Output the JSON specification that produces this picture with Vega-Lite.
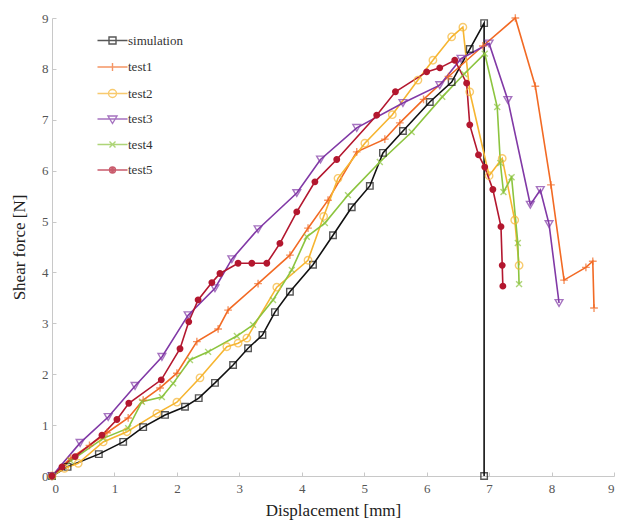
{
  "$schema": "https://vega.github.io/schema/vega-lite/v6.json",
  "width": 562,
  "height": 458,
  "autosize": {"type": "none"},
  "padding": {"left": 52, "top": 18, "right": 10, "bottom": 48},
  "background": "white",
  "config": {
    "view": {"stroke": null},
    "font": "Liberation Serif, Times New Roman, serif",
    "axis": {
      "grid": false,
      "domainColor": "#c8c8c8",
      "tickColor": "#c8c8c8",
      "tickSize": -4,
      "labelFont": "Liberation Serif, Times New Roman, serif",
      "labelFontSize": 13,
      "labelColor": "#555555",
      "titleFont": "Liberation Serif, Times New Roman, serif",
      "titleFontSize": 17,
      "titleFontWeight": "normal",
      "titleColor": "#222222"
    },
    "legend": {"labelFont": "Liberation Serif, Times New Roman, serif", "labelFontSize": 13, "labelColor": "#333333"}
  },
  "data": {"values": [
    {"series":"simulation","order":0,"x":0,"y":0},
    {"series":"simulation","order":1,"x":0.25,"y":0.18},
    {"series":"simulation","order":2,"x":0.75,"y":0.43},
    {"series":"simulation","order":3,"x":1.14,"y":0.67},
    {"series":"simulation","order":4,"x":1.46,"y":0.96},
    {"series":"simulation","order":5,"x":1.81,"y":1.2},
    {"series":"simulation","order":6,"x":2.13,"y":1.36},
    {"series":"simulation","order":7,"x":2.35,"y":1.53},
    {"series":"simulation","order":8,"x":2.61,"y":1.83},
    {"series":"simulation","order":9,"x":2.9,"y":2.18},
    {"series":"simulation","order":10,"x":3.14,"y":2.51},
    {"series":"simulation","order":11,"x":3.37,"y":2.77},
    {"series":"simulation","order":12,"x":3.57,"y":3.22},
    {"series":"simulation","order":13,"x":3.81,"y":3.62},
    {"series":"simulation","order":14,"x":4.18,"y":4.15},
    {"series":"simulation","order":15,"x":4.5,"y":4.73},
    {"series":"simulation","order":16,"x":4.8,"y":5.28},
    {"series":"simulation","order":17,"x":5.09,"y":5.7},
    {"series":"simulation","order":18,"x":5.3,"y":6.35},
    {"series":"simulation","order":19,"x":5.62,"y":6.78},
    {"series":"simulation","order":20,"x":6.05,"y":7.35},
    {"series":"simulation","order":21,"x":6.4,"y":7.74},
    {"series":"simulation","order":22,"x":6.69,"y":8.39},
    {"series":"simulation","order":23,"x":6.92,"y":8.9},
    {"series":"simulation","order":24,"x":6.92,"y":0},

    {"series":"test1","order":0,"x":0,"y":0},
    {"series":"test1","order":1,"x":0.3,"y":0.35},
    {"series":"test1","order":2,"x":0.6,"y":0.6},
    {"series":"test1","order":3,"x":0.88,"y":0.85},
    {"series":"test1","order":4,"x":1.22,"y":1.14},
    {"series":"test1","order":5,"x":1.46,"y":1.49},
    {"series":"test1","order":6,"x":1.73,"y":1.73},
    {"series":"test1","order":7,"x":2.0,"y":2.02},
    {"series":"test1","order":8,"x":2.32,"y":2.64},
    {"series":"test1","order":9,"x":2.66,"y":2.89},
    {"series":"test1","order":10,"x":2.82,"y":3.26},
    {"series":"test1","order":11,"x":3.3,"y":3.78},
    {"series":"test1","order":12,"x":3.81,"y":4.34},
    {"series":"test1","order":13,"x":4.1,"y":4.87},
    {"series":"test1","order":14,"x":4.42,"y":5.42},
    {"series":"test1","order":15,"x":4.88,"y":6.37},
    {"series":"test1","order":16,"x":5.33,"y":6.62},
    {"series":"test1","order":17,"x":5.57,"y":6.94},
    {"series":"test1","order":18,"x":5.95,"y":7.4},
    {"series":"test1","order":19,"x":6.35,"y":7.85},
    {"series":"test1","order":20,"x":6.9,"y":8.45},
    {"series":"test1","order":21,"x":7.42,"y":9.0},
    {"series":"test1","order":22,"x":7.74,"y":7.66},
    {"series":"test1","order":23,"x":7.99,"y":5.72},
    {"series":"test1","order":24,"x":8.2,"y":3.85},
    {"series":"test1","order":25,"x":8.55,"y":4.1},
    {"series":"test1","order":26,"x":8.66,"y":4.22},
    {"series":"test1","order":27,"x":8.68,"y":3.3},

    {"series":"test2","order":0,"x":0,"y":0},
    {"series":"test2","order":1,"x":0.2,"y":0.15},
    {"series":"test2","order":2,"x":0.42,"y":0.25},
    {"series":"test2","order":3,"x":0.82,"y":0.67},
    {"series":"test2","order":4,"x":1.2,"y":0.87},
    {"series":"test2","order":5,"x":1.68,"y":1.23},
    {"series":"test2","order":6,"x":2.0,"y":1.45},
    {"series":"test2","order":7,"x":2.37,"y":1.93},
    {"series":"test2","order":8,"x":2.8,"y":2.54},
    {"series":"test2","order":9,"x":2.98,"y":2.61},
    {"series":"test2","order":10,"x":3.12,"y":2.71},
    {"series":"test2","order":11,"x":3.6,"y":3.71},
    {"series":"test2","order":12,"x":4.1,"y":4.24},
    {"series":"test2","order":13,"x":4.35,"y":5.1},
    {"series":"test2","order":14,"x":4.58,"y":5.85},
    {"series":"test2","order":15,"x":5.01,"y":6.54},
    {"series":"test2","order":16,"x":5.45,"y":7.1},
    {"series":"test2","order":17,"x":5.86,"y":7.78},
    {"series":"test2","order":18,"x":6.1,"y":8.17},
    {"series":"test2","order":19,"x":6.4,"y":8.63},
    {"series":"test2","order":20,"x":6.58,"y":8.82},
    {"series":"test2","order":21,"x":6.69,"y":7.55},
    {"series":"test2","order":22,"x":7.0,"y":5.9},
    {"series":"test2","order":23,"x":7.21,"y":6.24},
    {"series":"test2","order":24,"x":7.41,"y":5.03},
    {"series":"test2","order":25,"x":7.48,"y":4.14},

    {"series":"test3","order":0,"x":0,"y":0},
    {"series":"test3","order":1,"x":0.45,"y":0.65},
    {"series":"test3","order":2,"x":0.9,"y":1.16},
    {"series":"test3","order":3,"x":1.33,"y":1.77},
    {"series":"test3","order":4,"x":1.76,"y":2.34},
    {"series":"test3","order":5,"x":2.18,"y":3.16},
    {"series":"test3","order":6,"x":2.61,"y":3.69},
    {"series":"test3","order":7,"x":2.88,"y":4.26},
    {"series":"test3","order":8,"x":3.3,"y":4.85},
    {"series":"test3","order":9,"x":3.92,"y":5.56},
    {"series":"test3","order":10,"x":4.3,"y":6.22},
    {"series":"test3","order":11,"x":4.88,"y":6.84},
    {"series":"test3","order":12,"x":5.62,"y":7.33},
    {"series":"test3","order":13,"x":6.21,"y":7.68},
    {"series":"test3","order":14,"x":6.55,"y":8.2},
    {"series":"test3","order":15,"x":7.0,"y":8.5},
    {"series":"test3","order":16,"x":7.3,"y":7.39},
    {"series":"test3","order":17,"x":7.66,"y":5.33},
    {"series":"test3","order":18,"x":7.82,"y":5.62},
    {"series":"test3","order":19,"x":7.96,"y":4.95},
    {"series":"test3","order":20,"x":8.12,"y":3.4},

    {"series":"test4","order":0,"x":0,"y":0},
    {"series":"test4","order":1,"x":0.3,"y":0.3},
    {"series":"test4","order":2,"x":0.82,"y":0.74},
    {"series":"test4","order":3,"x":1.22,"y":0.94},
    {"series":"test4","order":4,"x":1.44,"y":1.46},
    {"series":"test4","order":5,"x":1.76,"y":1.55},
    {"series":"test4","order":6,"x":1.94,"y":1.82},
    {"series":"test4","order":7,"x":2.21,"y":2.28},
    {"series":"test4","order":8,"x":2.5,"y":2.44},
    {"series":"test4","order":9,"x":2.96,"y":2.75},
    {"series":"test4","order":10,"x":3.22,"y":2.97},
    {"series":"test4","order":11,"x":3.54,"y":3.46},
    {"series":"test4","order":12,"x":3.84,"y":4.05},
    {"series":"test4","order":13,"x":4.08,"y":4.7},
    {"series":"test4","order":14,"x":4.37,"y":4.97},
    {"series":"test4","order":15,"x":4.74,"y":5.52},
    {"series":"test4","order":16,"x":5.25,"y":6.17},
    {"series":"test4","order":17,"x":5.76,"y":6.76},
    {"series":"test4","order":18,"x":6.25,"y":7.45},
    {"series":"test4","order":19,"x":6.6,"y":7.9},
    {"series":"test4","order":20,"x":6.93,"y":8.3},
    {"series":"test4","order":21,"x":7.13,"y":7.25},
    {"series":"test4","order":22,"x":7.18,"y":6.15},
    {"series":"test4","order":23,"x":7.23,"y":5.58},
    {"series":"test4","order":24,"x":7.36,"y":5.87},
    {"series":"test4","order":25,"x":7.46,"y":4.58},
    {"series":"test4","order":26,"x":7.48,"y":3.77},

    {"series":"test5","order":0,"x":0,"y":0},
    {"series":"test5","order":1,"x":0.16,"y":0.18},
    {"series":"test5","order":2,"x":0.37,"y":0.38},
    {"series":"test5","order":3,"x":0.8,"y":0.8},
    {"series":"test5","order":4,"x":1.04,"y":1.11},
    {"series":"test5","order":5,"x":1.23,"y":1.43},
    {"series":"test5","order":6,"x":1.75,"y":1.89},
    {"series":"test5","order":7,"x":2.05,"y":2.5},
    {"series":"test5","order":8,"x":2.19,"y":3.03},
    {"series":"test5","order":9,"x":2.34,"y":3.46},
    {"series":"test5","order":10,"x":2.56,"y":3.8},
    {"series":"test5","order":11,"x":2.69,"y":3.98},
    {"series":"test5","order":12,"x":2.98,"y":4.18},
    {"series":"test5","order":13,"x":3.2,"y":4.18},
    {"series":"test5","order":14,"x":3.44,"y":4.18},
    {"series":"test5","order":15,"x":3.65,"y":4.57},
    {"series":"test5","order":16,"x":3.92,"y":5.19},
    {"series":"test5","order":17,"x":4.21,"y":5.78},
    {"series":"test5","order":18,"x":4.56,"y":6.22},
    {"series":"test5","order":19,"x":5.2,"y":7.09},
    {"series":"test5","order":20,"x":5.5,"y":7.55},
    {"series":"test5","order":21,"x":6.0,"y":7.94},
    {"series":"test5","order":22,"x":6.21,"y":8.02},
    {"series":"test5","order":23,"x":6.45,"y":8.17},
    {"series":"test5","order":24,"x":6.64,"y":7.72},
    {"series":"test5","order":25,"x":6.69,"y":6.9},
    {"series":"test5","order":26,"x":6.83,"y":6.31},
    {"series":"test5","order":27,"x":6.93,"y":6.07},
    {"series":"test5","order":28,"x":7.06,"y":5.63},
    {"series":"test5","order":29,"x":7.19,"y":4.9},
    {"series":"test5","order":30,"x":7.21,"y":4.14},
    {"series":"test5","order":31,"x":7.22,"y":3.73}
  ]},
  "encoding": {
    "x": {"field": "x", "type": "quantitative", "scale": {"domain": [0, 9], "nice": false},
          "axis": {"values": [0,1,2,3,4,5,6,7,8,9], "title": "Displacement [mm]", "labelPadding": 10, "titlePadding": 7,
                   "labelFont": "Liberation Serif, Times New Roman, serif"}},
    "y": {"field": "y", "type": "quantitative", "scale": {"domain": [0, 9], "nice": false},
          "axis": {"values": [0,1,2,3,4,5,6,7,8,9], "title": "Shear force [N]", "labelPadding": 8, "titlePadding": 13,
                   "labelFont": "Liberation Serif, Times New Roman, serif"}},
    "color": {"field": "series", "type": "nominal",
      "scale": {"domain": ["simulation","test1","test2","test3","test4","test5"],
                "range": ["#111111","#f26a24","#f6b531","#8139a6","#8cc43f","#b3172f"]},
      "legend": {"title": null, "orient": "none", "legendX": 54, "legendY": 16, "padding": 0,
           "symbolSize": 100, "symbolStrokeWidth": 1.4, "labelOffset": 9, "rowPadding": 11.5,
           "labelFont": "Liberation Serif, Times New Roman, serif", "labelFontSize": 13, "labelColor": "#333333",
           "symbolFillColor": "transparent"}}
  },
  "layer": [
    {"mark": {"type": "line", "strokeWidth": 1.6},
     "encoding": {"order": {"field": "order", "type": "quantitative"}}},
    {"transform": [{"filter": "datum.series == 'simulation'"}],
     "mark": {"type": "point", "shape": "square", "filled": false, "size": 42, "strokeWidth": 1.4}},
    {"transform": [{"filter": "datum.series == 'test1'"}],
     "mark": {"type": "point", "shape": "M-1,0H1M0,-1V1", "filled": false, "size": 60, "strokeWidth": 1.4}},
    {"transform": [{"filter": "datum.series == 'test2'"}],
     "mark": {"type": "point", "shape": "circle", "filled": false, "size": 55, "strokeWidth": 1.4}},
    {"transform": [{"filter": "datum.series == 'test3'"}],
     "mark": {"type": "point", "shape": "triangle-down", "filled": false, "size": 60, "strokeWidth": 1.4}},
    {"transform": [{"filter": "datum.series == 'test4'"}],
     "mark": {"type": "point", "shape": "M-1,-1L1,1M-1,1L1,-1", "filled": false, "size": 35, "strokeWidth": 1.4}},
    {"transform": [{"filter": "datum.series == 'test5'"}],
     "mark": {"type": "point", "shape": "circle", "filled": false, "size": 12, "strokeWidth": 3.4, "opacity": 1}},
    {"transform": [{"filter": "false"}],
     "mark": {"type": "point", "filled": false, "strokeWidth": 1.4},
     "encoding": {
       "shape": {"field": "series", "type": "nominal",
         "scale": {"domain": ["simulation","test1","test2","test3","test4","test5"],
           "range": [
             "M-3,0H3M-0.7,-0.7H0.7V0.7H-0.7Z",
             "M-3,0H3M0,-0.8V0.8",
             "M-3,0H3M-0.8,0A0.8,0.8 0 1,0 0.8,0A0.8,0.8 0 1,0 -0.8,0",
             "M-3,0H3M-0.9,-0.6L0.9,-0.6L0,0.9Z",
             "M-3,0H3M-0.6,-0.6L0.6,0.6M-0.6,0.6L0.6,-0.6",
             "M-3,0H3M-0.6,0A0.6,0.6 0 1,0 0.6,0A0.6,0.6 0 1,0 -0.6,0M-0.3,0A0.3,0.3 0 1,0 0.3,0A0.3,0.3 0 1,0 -0.3,0"
           ]},
         "legend": {"title": null, "orient": "none", "legendX": 54, "legendY": 16, "padding": 0,
           "symbolSize": 100, "symbolStrokeWidth": 1.4, "labelOffset": 9, "rowPadding": 11.5,
           "labelFont": "Liberation Serif, Times New Roman, serif", "labelFontSize": 13, "labelColor": "#333333",
           "symbolFillColor": "transparent"}}
     }}
  ]
}
